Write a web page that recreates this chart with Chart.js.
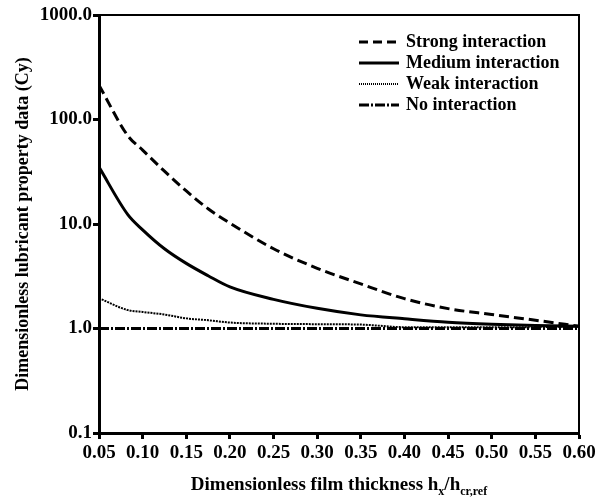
<!DOCTYPE html>
<html lang="en">
<head>
    <meta charset="UTF-8">
    <title>Dimensionless lubricant property data</title>
    <script src="https://cdn.jsdelivr.net/npm/chart.js"></script>
    <style>
        body { margin: 0; background: #fff; }
        #wrap { width: 605px; height: 500px; position: relative; }
    </style>
</head>
<body>
    <div id="wrap"><canvas id="chart"></canvas></div>

    <script>
        // film thickness h_x / h_cr,ref
        const filmThickness = [0.05, 0.083, 0.10, 0.125, 0.15, 0.175, 0.20, 0.25, 0.30, 0.35, 0.40, 0.45, 0.50, 0.55, 0.60];
        const strongInteraction = [213, 70, 51, 32, 20.7, 14.0, 10.2, 5.8, 3.77, 2.67, 1.93, 1.55, 1.36, 1.2, 1.05];
        const mediumInteraction = [35, 12.3, 8.8, 5.8, 4.2, 3.2, 2.5, 1.9, 1.56, 1.35, 1.24, 1.15, 1.1, 1.07, 1.05];
        const weakInteraction   = [1.95, 1.5, 1.44, 1.36, 1.25, 1.2, 1.14, 1.11, 1.1, 1.09, 1.03, 1.03, 1.03, 1.03, 1.05];
        const noInteraction     = [1, 1, 1, 1, 1, 1, 1, 1, 1, 1, 1, 1, 1, 1, 1];
        const seriesNames = ["Strong interaction", "Medium interaction", "Weak interaction", "No interaction"];

        const xTicks = [0.05, 0.10, 0.15, 0.20, 0.25, 0.30, 0.35, 0.40, 0.45, 0.50, 0.55, 0.60];
        const yTicks = [0.1, 1, 10, 100, 1000];

        const FONT = '"Liberation Serif", "DejaVu Serif", serif';

        function toPoints(ys) {
            return ys.map((y, i) => ({ x: filmThickness[i], y: y }));
        }

        // draws the box on top/right, the legend and the x title (with subscripts)
        const decorations = {
            id: "decorations",
            afterDraw(chart) {
                const ctx = chart.ctx;
                const a = chart.chartArea;
                ctx.save();

                // top + right frame
                ctx.strokeStyle = "#000";
                ctx.lineWidth = 2;
                ctx.beginPath();
                ctx.moveTo(a.left, a.top);
                ctx.lineTo(a.right, a.top);
                ctx.lineTo(a.right, a.bottom);
                ctx.stroke();

                // legend inside the plot
                ctx.font = "bold 18px " + FONT;
                ctx.textBaseline = "middle";
                ctx.fillStyle = "#000";
                chart.data.datasets.forEach((ds, i) => {
                    const y = 42 + i * 21;
                    ctx.beginPath();
                    ctx.setLineDash(ds.legendDash || ds.borderDash || []);
                    ctx.lineWidth = ds.borderWidth;
                    ctx.moveTo(359, y);
                    ctx.lineTo(399, y);
                    ctx.stroke();
                    ctx.setLineDash([]);
                    ctx.fillText(ds.label, 406, y);
                });

                // x axis title
                const parts = [
                    { t: "Dimensionless film thickness h", sub: false },
                    { t: "x", sub: true },
                    { t: "/h", sub: false },
                    { t: "cr,ref", sub: true }
                ];
                const big = "bold 19px " + FONT;
                const small = "bold 12px " + FONT;
                let total = 0;
                parts.forEach(p => {
                    ctx.font = p.sub ? small : big;
                    p.w = ctx.measureText(p.t).width;
                    total += p.w;
                });
                let x = (a.left + a.right) / 2 - total / 2;
                ctx.textBaseline = "alphabetic";
                ctx.textAlign = "left";
                parts.forEach(p => {
                    ctx.font = p.sub ? small : big;
                    ctx.fillText(p.t, x, p.sub ? 495 : 490);
                    x += p.w;
                });

                ctx.restore();
            }
        };

        new Chart(document.getElementById("chart"), {
            type: "line",
            data: {
                datasets: [
                    {
                        label: seriesNames[0],
                        data: toPoints(strongInteraction),
                        borderColor: "#000",
                        borderWidth: 3,
                        borderDash: [10, 5],
                        legendDash: [9, 5],
                        cubicInterpolationMode: "monotone"
                    },
                    {
                        label: seriesNames[1],
                        data: toPoints(mediumInteraction),
                        borderColor: "#000",
                        borderWidth: 3,
                        cubicInterpolationMode: "monotone"
                    },
                    {
                        label: seriesNames[2],
                        data: toPoints(weakInteraction),
                        borderColor: "#000",
                        borderWidth: 2,
                        borderDash: [2, 1],
                        legendDash: [1, 1],
                        cubicInterpolationMode: "monotone"
                    },
                    {
                        label: seriesNames[3],
                        data: toPoints(noInteraction),
                        borderColor: "#000",
                        borderWidth: 3,
                        borderDash: [10, 2, 2, 2]
                    }
                ]
            },
            options: {
                responsive: true,
                maintainAspectRatio: false,
                animation: false,
                layout: { padding: { top: 15, right: 26, left: 0, bottom: 0 } },
                elements: { point: { radius: 0 } },
                plugins: {
                    legend: { display: false },
                    tooltip: { enabled: false }
                },
                scales: {
                    x: {
                        type: "linear",
                        min: 0.05,
                        max: 0.60,
                        afterBuildTicks: s => { s.ticks = xTicks.map(v => ({ value: v })); },
                        afterFit: s => { s.height = 67; },
                        border: { display: true, color: "#000", width: 3 },
                        grid: { drawOnChartArea: false, drawTicks: true, tickLength: 6, tickColor: "#000", tickWidth: 3 },
                        ticks: {
                            color: "#000",
                            padding: 3,
                            maxRotation: 0,
                            font: { family: FONT, size: 19, weight: "bold" },
                            callback: v => Number(v).toFixed(2)
                        }
                    },
                    y: {
                        type: "logarithmic",
                        min: 0.1,
                        max: 1000,
                        afterBuildTicks: s => { s.ticks = yTicks.map(v => ({ value: v })); },
                        afterFit: s => { s.width = 99; },
                        border: { display: true, color: "#000", width: 3 },
                        grid: { drawOnChartArea: false, drawTicks: true, tickLength: 6, tickColor: "#000", tickWidth: 3 },
                        title: {
                            display: true,
                            text: "Dimensionless lubricant property data (Cy)",
                            color: "#000",
                            padding: { top: 13, bottom: 0 },
                            font: { family: FONT, size: 18, weight: "bold" }
                        },
                        ticks: {
                            color: "#000",
                            padding: 1,
                            font: { family: FONT, size: 19, weight: "bold" },
                            callback: v => Number(v).toFixed(1)
                        }
                    }
                }
            },
            plugins: [decorations]
        });
    </script>
</body>
</html>
